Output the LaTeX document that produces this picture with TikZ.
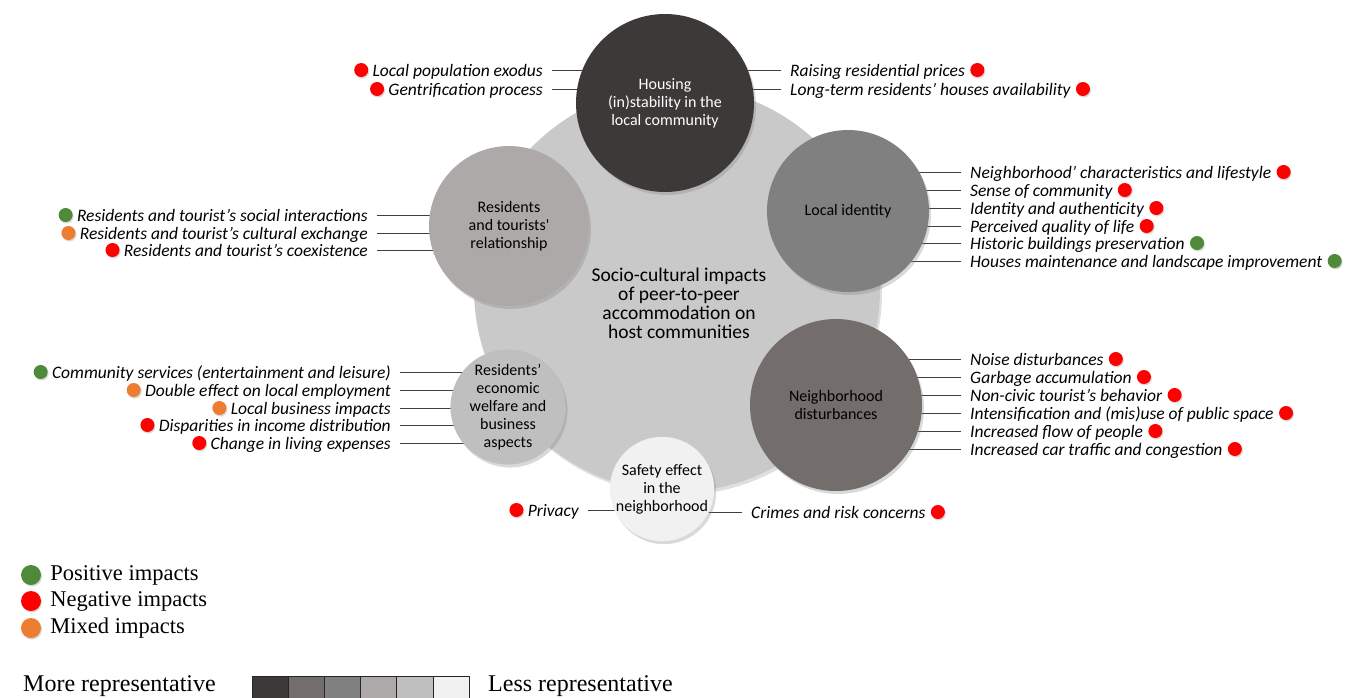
\documentclass[tikz,border=0pt]{standalone}
\usepackage{fontspec}
\setmainfont{Liberation Serif}
\newfontfamily\calibri{Carlito}
\usetikzlibrary{positioning,shadows,backgrounds}

\definecolor{pos}{HTML}{4E8A3A}
\definecolor{neg}{HTML}{FF0000}
\definecolor{mix}{HTML}{ED7D31}
\definecolor{shA}{HTML}{3D3938}
\definecolor{shB}{HTML}{736D6C}
\definecolor{shC}{HTML}{808080}
\definecolor{shD}{HTML}{ADA9A8}
\definecolor{shE}{HTML}{BFBFBF}
\definecolor{shF}{HTML}{F1F1F1}
\definecolor{coreg}{HTML}{C9C9C9}

\begin{document}
\begin{tikzpicture}[
		x=1pt,y=-1pt,
		topic/.style={circle,align=center,inner sep=0pt,
			font=\calibri\fontsize{16}{18}\selectfont,
			drop shadow={shadow xshift=2pt,shadow yshift=-3pt,opacity=0.3}},
		item/.style={inner sep=0pt,text height=16pt,text depth=3pt,
			font=\calibri\itshape\fontsize{17.5}{18}\selectfont},
		dot/.style={circle,inner sep=0pt,minimum size=14pt,
			drop shadow={shadow xshift=1pt,shadow yshift=-1.5pt,opacity=0.3}},
		link/.style={draw=black!75,line width=0.6pt,shorten <=9pt},
		legend/.style={inner sep=0pt,font=\fontsize{22.5}{24}\selectfont},
		cell/.style={draw=black!85,line width=0.8pt}
	]
	\useasboundingbox (0,0) rectangle (1359,697);

	\node[circle,fill=coreg,minimum size=406pt,
		drop shadow={shadow xshift=2pt,shadow yshift=-3pt,opacity=0.25}] (core) at (677,289) {};
	\node[align=center,font=\calibri\fontsize{19.5}{19}\selectfont] (ctext) at (679,303)
		{Socio-cultural impacts\\of peer-to-peer\\accommodation on\\host communities};

	\node[topic,fill=shA,text=white,minimum size=178pt] (hou) at (665,103) {Housing\\(in)stability in the\\local community};
	\node[topic,fill=shD,minimum size=160pt] (rel) at (509,226) {Residents\\and tourists'\\relationship};
	\node[topic,fill=shC,minimum size=162pt] (ide) at (848,211) {Local identity};
	\node[topic,fill=shB,minimum size=172pt] (dis) at (836,405) {Neighborhood\\disturbances};
	\node[topic,fill=shE,minimum size=108pt] (eco) at (508,407) {Residents’\\economic\\welfare and\\business\\aspects};
	\node[topic,fill=shF,minimum size=104pt] (saf) at (662,489) {Safety effect\\in the\\neighborhood};

	% items on the left side of a circle
	\foreach \x/\y/\txt/\col/\c [count=\i] in {
			543/70/Local population exodus/neg/hou,
			543/89/Gentrification process/neg/hou,
			368/215/Residents and tourist’s social interactions/pos/rel,
			368/233/Residents and tourist’s cultural exchange/mix/rel,
			368/250/Residents and tourist’s coexistence/neg/rel,
			391/372/Community services (entertainment and leisure)/pos/eco,
			391/390/Double effect on local employment/mix/eco,
			391/408/Local business impacts/mix/eco,
			391/425/Disparities in income distribution/neg/eco,
			391/443/Change in living expenses/neg/eco,
			579/510/Privacy/neg/saf}{
		\node[item,anchor=east] (lt\i) at (\x,\y) {\txt};
		\node[dot,fill=\col,left=4pt of lt\i] (ltd\i) {};
		\begin{pgfonlayer}{background}
			\draw[link] (lt\i.east) -- (lt\i.east -| \c.center);
		\end{pgfonlayer}
	}

	% items on the right side of a circle
	\foreach \x/\y/\txt/\col/\c [count=\i] in {
			790/70/Raising residential prices/neg/hou,
			790/89/Long-term residents’ houses availability/neg/hou,
			970/172/Neighborhood’ characteristics and lifestyle/neg/ide,
			970/190/Sense of community/neg/ide,
			970/208/Identity and authenticity/neg/ide,
			970/226/Perceived quality of life/neg/ide,
			970/243/Historic buildings preservation/pos/ide,
			970/261/Houses maintenance and landscape improvement/pos/ide,
			970/359/Noise disturbances/neg/dis,
			970/377/Garbage accumulation/neg/dis,
			970/395/Non-civic tourist’s behavior/neg/dis,
			970/413/Intensification and (mis)use of public space/neg/dis,
			970/431/Increased flow of people/neg/dis,
			970/449/Increased car traffic and congestion/neg/dis,
			751/512/Crimes and risk concerns/neg/saf}{
		\node[item,anchor=west] (rt\i) at (\x,\y) {\txt};
		\node[dot,fill=\col,right=5pt of rt\i] (rtd\i) {};
		\begin{pgfonlayer}{background}
			\draw[link] (rt\i.west) -- (rt\i.west -| \c.center);
		\end{pgfonlayer}
	}

	% legend
	\node[dot,minimum size=20pt,fill=pos] (lgp) at (31,575) {};
	\node[dot,minimum size=20pt,fill=neg] (lgn) at (31,601) {};
	\node[dot,minimum size=20pt,fill=mix] (lgm) at (31,628) {};
	\node[legend,right=9pt of lgp] (lgpt) {Positive impacts};
	\node[legend,right=9pt of lgn] (lgnt) {Negative impacts};
	\node[legend,right=9pt of lgm] (lgmt) {Mixed impacts};

	\foreach \c [count=\i] in {shA,shB,shC,shD,shE,shF}
		\draw[cell,fill=\c] ({252+36.2*(\i-1)},676) rectangle ++(36.2,24);
	\node[legend,anchor=east,font=\fontsize{24}{24}\selectfont] (more) at (216,686) {More representative};
	\node[legend,anchor=west,font=\fontsize{24}{24}\selectfont] (less) at (488,686) {Less representative};
\end{tikzpicture}
\end{document}
